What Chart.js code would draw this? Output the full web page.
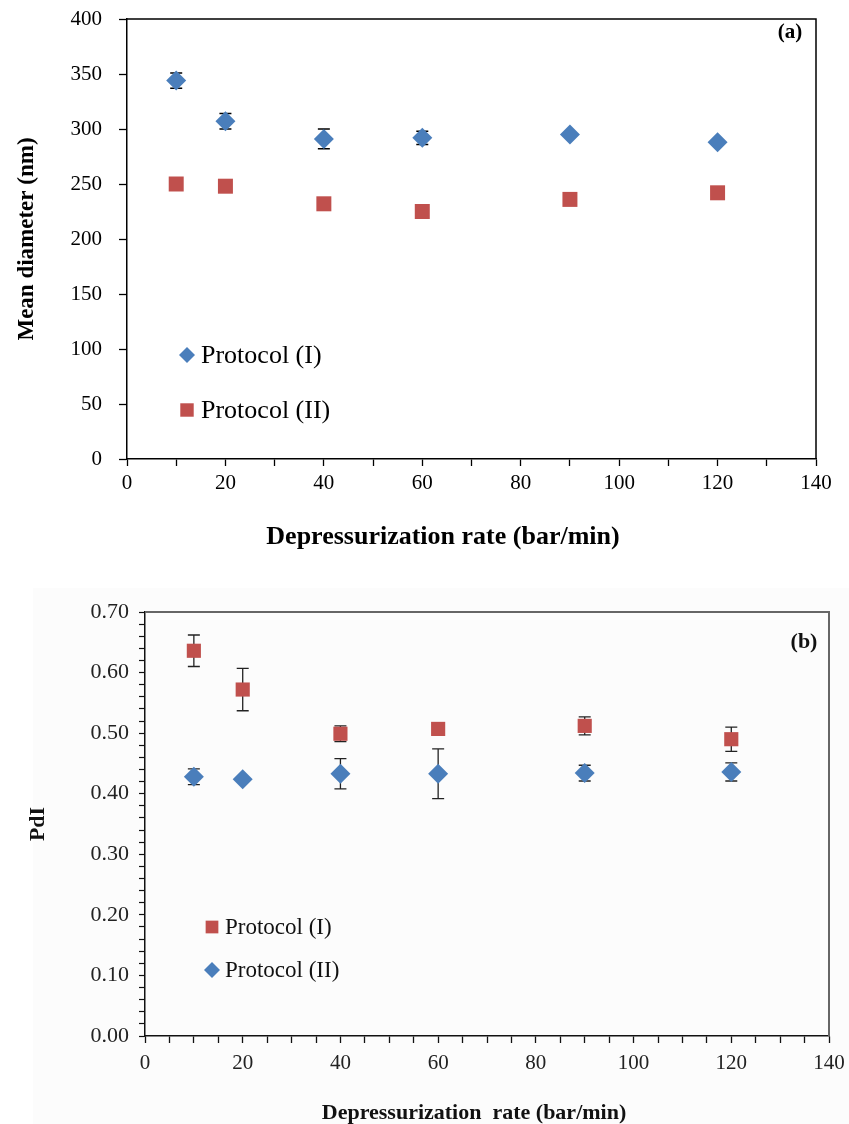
<!DOCTYPE html>
<html>
<head>
<meta charset="utf-8">
<script src="https://cdn.jsdelivr.net/npm/chart.js@4.4.1/dist/chart.umd.min.js"></script>
<style>
  body { margin: 0; background: #fff; }
  #wrap { position: relative; width: 849px; height: 1124px; overflow: hidden; }
  #chartA { position: absolute; left: 0; top: 0; }
  #panelB { position: absolute; left: 33px; top: 588px; width: 816px; height: 536px; background: #fcfcfc; }
  #chartB { position: absolute; left: 0; top: 580px; }
</style>
</head>
<body>
<div id="wrap">
  <canvas id="chartA" width="849" height="560"></canvas>
  <div id="panelB"></div>
  <canvas id="chartB" width="849" height="544"></canvas>
</div>
<script>
const rates = [10, 20, 40, 60, 90, 120];

// (a) mean diameter, nm
const diamP1 = [344, 307, 291, 292, 295, 288];
const diamP1Err = [7, 7, 9, 6, 0, 0];
const diamP2 = [250, 248, 232, 225, 236, 242];

// (b) polydispersity index
const pdiP1 = [0.636, 0.572, 0.499, 0.507, 0.512, 0.490];
const pdiP1Err = [0.026, 0.035, 0.013, 0, 0.015, 0.02];
const pdiP2 = [0.428, 0.424, 0.433, 0.433, 0.434, 0.436];
const pdiP2Err = [0.013, 0, 0.025, 0.041, 0.013, 0.015];

const BLUE = '#4a7ebb';
const RED = '#c0504d';
const SERIF = "'Liberation Serif', 'Times New Roman', serif";

const pts = (ys) => rates.map((x, i) => ({ x: x, y: ys[i] }));

// vertical error bars with caps, drawn under the markers
const errorBars = {
  id: 'errorBars',
  beforeDatasetsDraw(chart, args, opts) {
    const { ctx } = chart;
    const x = chart.scales.x, y = chart.scales.y;
    ctx.save();
    ctx.strokeStyle = opts.color;
    ctx.lineWidth = opts.width;
    chart.data.datasets.forEach(ds => {
      if (!ds.errors) return;
      ds.data.forEach((p, i) => {
        const e = ds.errors[i];
        if (!e) return;
        const px = x.getPixelForValue(p.x);
        const hi = y.getPixelForValue(p.y + e);
        const lo = y.getPixelForValue(p.y - e);
        ctx.beginPath();
        ctx.moveTo(px, hi); ctx.lineTo(px, lo);
        ctx.moveTo(px - opts.cap, hi); ctx.lineTo(px + opts.cap, hi);
        ctx.moveTo(px - opts.cap, lo); ctx.lineTo(px + opts.cap, lo);
        ctx.stroke();
      });
    });
    ctx.restore();
  }
};

// top and right edges of the plot box
const frame = {
  id: 'frame',
  afterDraw(chart, args, opts) {
    const { ctx, chartArea: a } = chart;
    ctx.save();
    ctx.strokeStyle = opts.color;
    ctx.lineWidth = opts.width;
    ctx.beginPath();
    ctx.moveTo(a.left, a.top);
    ctx.lineTo(a.right, a.top);
    ctx.lineTo(a.right, a.bottom);
    ctx.stroke();
    ctx.restore();
  }
};

function marker(ctx, style, x, y, r, color) {
  ctx.fillStyle = color;
  ctx.beginPath();
  if (style === 'rectRot') {
    ctx.moveTo(x, y - r); ctx.lineTo(x + r, y); ctx.lineTo(x, y + r); ctx.lineTo(x - r, y);
  } else {
    const h = r * Math.SQRT1_2;
    ctx.rect(x - h, y - h, 2 * h, 2 * h);
  }
  ctx.closePath();
  ctx.fill();
}

// x title, panel tag and the in-plot legend
const annotations = {
  id: 'annotations',
  afterDraw(chart, args, opts) {
    const { ctx } = chart;
    ctx.save();
    ctx.textBaseline = 'middle';
    ctx.fillStyle = opts.textColor;

    ctx.textAlign = 'center';
    ctx.font = 'bold ' + opts.titleSize + 'px ' + SERIF;
    ctx.fillText(opts.xTitle, opts.xTitlePos[0], opts.xTitlePos[1]);
    ctx.font = 'bold ' + opts.tagSize + 'px ' + SERIF;
    ctx.fillText(opts.tag, opts.tagPos[0], opts.tagPos[1]);

    ctx.textAlign = 'left';
    ctx.font = opts.legendSize + 'px ' + SERIF;
    opts.legend.forEach(item => {
      const ds = chart.data.datasets[item.index];
      marker(ctx, ds.pointStyle, item.x, item.y, item.r, ds.backgroundColor);
      ctx.fillStyle = opts.textColor;
      ctx.fillText(ds.label, item.x + opts.legendGap, item.y + 1);
    });
    ctx.restore();
  }
};

// fixed axis sizes; label overflow is left out so the plot box stays put
const fixY = (w) => (s) => { s.width = w; s.paddingTop = 0; s.paddingBottom = 0; };
const fixX = (h) => (s) => { s.height = h; s.paddingLeft = 0; s.paddingRight = 0; };

function axisX(step, tickColor, labelSize, labelColor, height, padding) {
  return {
    type: 'linear', min: 0, max: 140,
    ticks: {
      stepSize: step, autoSkip: false, maxRotation: 0, padding: padding,
      color: labelColor, font: { family: SERIF, size: labelSize },
      callback: v => (v % 20 === 0 ? v : '')
    },
    grid: { drawOnChartArea: false, drawTicks: true, tickLength: 7, tickColor: tickColor, tickWidth: 1.3 },
    border: { color: tickColor, width: 1.5 },
    afterFit: fixX(height)
  };
}

new Chart(document.getElementById('chartA'), {
  type: 'scatter',
  data: {
    datasets: [
      { label: 'Protocol (I)', data: pts(diamP1), errors: diamP1Err, pointStyle: 'rectRot',
        pointRadius: 10, backgroundColor: BLUE, borderColor: BLUE, borderWidth: 0 },
      { label: 'Protocol (II)', data: pts(diamP2), pointStyle: 'rect',
        pointRadius: 10.6, backgroundColor: RED, borderColor: RED, borderWidth: 0 }
    ]
  },
  options: {
    responsive: false,
    animation: false,
    layout: { padding: { top: 19, right: 33, left: 0, bottom: 0 } },
    scales: {
      x: axisX(10, '#000', 21, '#000', 101, 5),
      y: {
        min: 0, max: 400,
        ticks: { stepSize: 50, padding: 17, color: '#000', font: { family: SERIF, size: 21 } },
        grid: { drawOnChartArea: false, drawTicks: true, tickLength: 8, tickColor: '#000', tickWidth: 1.3 },
        border: { color: '#000', width: 1.5 },
        title: { display: true, text: 'Mean diameter (nm)', color: '#000',
                 font: { family: SERIF, size: 23, weight: 'bold' }, padding: { top: 13, bottom: 0 } },
        afterFit: fixY(127)
      }
    },
    plugins: {
      legend: { display: false },
      tooltip: { enabled: false },
      errorBars: { color: '#000', width: 1.5, cap: 6 },
      frame: { color: '#000', width: 1.5 },
      annotations: {
        textColor: '#000', titleSize: 26, tagSize: 21, legendSize: 26, legendGap: 14,
        xTitle: 'Depressurization rate (bar/min)', xTitlePos: [443, 537],
        tag: '(a)', tagPos: [790, 33],
        legend: [
          { index: 0, x: 187, y: 355, r: 8 },
          { index: 1, x: 187, y: 410, r: 9.5 }
        ]
      }
    }
  },
  plugins: [errorBars, frame, annotations]
});

new Chart(document.getElementById('chartB'), {
  type: 'scatter',
  data: {
    datasets: [
      { label: 'Protocol (I)', data: pts(pdiP1), errors: pdiP1Err, pointStyle: 'rect',
        pointRadius: 10, backgroundColor: RED, borderColor: RED, borderWidth: 0 },
      { label: 'Protocol (II)', data: pts(pdiP2), errors: pdiP2Err, pointStyle: 'rectRot',
        pointRadius: 10, backgroundColor: BLUE, borderColor: BLUE, borderWidth: 0 }
    ]
  },
  options: {
    responsive: false,
    animation: false,
    layout: { padding: { top: 32, right: 20, left: 0, bottom: 0 } },
    scales: {
      x: axisX(5, '#111', 21, '#222', 88, 8),
      y: {
        min: 0, max: 0.7,
        ticks: {
          stepSize: 0.02, autoSkip: false, padding: 10, color: '#222',
          font: { family: SERIF, size: 22 },
          callback: v => (Math.round(v * 100) % 10 === 0 ? v.toFixed(2) : '')
        },
        grid: { drawOnChartArea: false, drawTicks: true, tickLength: 6, tickColor: '#111', tickWidth: 1.2 },
        border: { color: '#111', width: 1.5 },
        title: { display: true, text: 'PdI', color: '#111',
                 font: { family: SERIF, size: 22, weight: 'bold' }, padding: { top: 25, bottom: 0 } },
        afterFit: fixY(145)
      }
    },
    plugins: {
      legend: { display: false },
      tooltip: { enabled: false },
      errorBars: { color: '#222', width: 1.3, cap: 6 },
      frame: { color: '#666', width: 2 },
      annotations: {
        textColor: '#111', titleSize: 22, tagSize: 22, legendSize: 23, legendGap: 13,
        xTitle: 'Depressurization  rate (bar/min)', xTitlePos: [474, 533],
        tag: '(b)', tagPos: [804, 62],
        legend: [
          { index: 0, x: 212, y: 347, r: 9 },
          { index: 1, x: 212, y: 390, r: 8 }
        ]
      }
    }
  },
  plugins: [errorBars, frame, annotations]
});
</script>
</body>
</html>
